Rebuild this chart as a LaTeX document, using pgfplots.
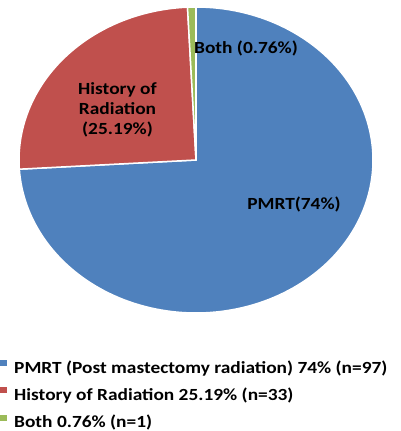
\documentclass[border=0pt]{standalone}
\usepackage{fontspec}
\setmainfont{Carlito}[FakeStretch=1.14]
\usepackage{pgfplots}
\usepackage{pgfplotstable}
\pgfplotsset{compat=1.18}
\definecolor{pieblue}{HTML}{4F81BD}
\definecolor{piered}{HTML}{C0504D}
\definecolor{piegreen}{HTML}{9BBB59}
\pgfplotstableread{
label count
PMRT 97
History 33
Both 1
}\piedata
\begin{document}
\begin{tikzpicture}
\path[use as bounding box] (0pt,0pt) rectangle (400pt,-431pt);
\pgfplotstablegetelem{0}{count}\of\piedata \let\nA\pgfplotsretval
\pgfplotstablegetelem{1}{count}\of\piedata \let\nB\pgfplotsretval
\pgfplotstablegetelem{2}{count}\of\piedata \let\nC\pgfplotsretval
\pgfmathsetmacro\total{\nA+\nB+\nC}
\pgfmathsetmacro\aA{90}
\pgfmathsetmacro\aB{90-360*(\nA/\total)}
\pgfmathsetmacro\aC{\aB-360*(\nB/\total)}
\pgfmathsetmacro\aD{\aC-360*(\nC/\total)}
\begin{axis}[
  at={(196pt,-160pt)}, anchor=center,
  scale only axis, width=354pt, height=306pt,
  xmin=-1, xmax=1, ymin=-1, ymax=1,
  axis lines=none, clip=false,
  legend style={at={(rel axis cs:-0.0537,-0.154)}, anchor=north west,
    draw=none, fill=none, inner sep=0pt,
    font=\bfseries\fontsize{17}{19}\selectfont,
    nodes={inner sep=0pt, text height=11pt, text depth=2.5pt},
    row sep=11.4pt,
    /tikz/every odd column/.append style={column sep=7pt}},
  legend cell align=left,
  legend image code/.code={\fill[#1, draw=none] (0pt,3pt) rectangle (7pt,9pt);},
]
\addplot[fill=pieblue, draw=white, line width=1.5pt, domain=\aB:\aA, samples=150, variable=\t]
  ({cos(\t)},{sin(\t)}) -- (axis cs:0,0) -- cycle;
\addlegendentry{PMRT (Post mastectomy radiation) 74\% (n=97)}
\addplot[fill=piered, draw=white, line width=1.5pt, domain=\aC:\aB, samples=80, variable=\t]
  ({cos(\t)},{sin(\t)}) -- (axis cs:0,0) -- cycle;
\addlegendentry{History of Radiation 25.19\% (n=33)}
\addplot[fill=piegreen, draw=white, line width=1.5pt, domain=\aD:\aC, samples=5, variable=\t]
  ({cos(\t)},{sin(\t)}) -- (axis cs:0,0) -- cycle;
\addlegendentry{Both 0.76\% (n=1)}
\end{axis}
\begin{scope}[every node/.style={font=\bfseries\fontsize{17}{19}\selectfont, inner sep=0pt, anchor=base}]
\node at (246pt,-53.3pt) {Both (0.76\%)};
\node at (117.5pt,-94pt) {History of};
\node at (117.5pt,-114.2pt) {Radiation};
\node at (117.5pt,-134.3pt) {(25.19\%)};
\node at (294pt,-209.5pt) {PMRT(74\%)};
\end{scope}
\end{tikzpicture}
\end{document}
